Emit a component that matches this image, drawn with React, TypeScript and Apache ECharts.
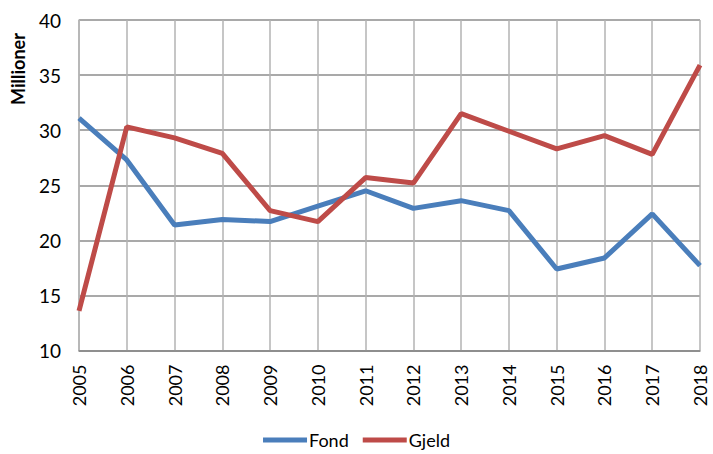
import React, { useEffect, useRef } from "react";
import * as echarts from "echarts";

const years = ["2005","2006","2007","2008","2009","2010","2011","2012","2013","2014","2015","2016","2017","2018"];
const fond = [31.1, 27.3, 21.4, 21.9, 21.7, 23.1, 24.5, 22.9, 23.6, 22.7, 17.4, 18.4, 22.4, 17.7];
const gjeld = [13.6, 30.3, 29.3, 27.9, 22.7, 21.7, 25.7, 25.2, 31.5, 29.9, 28.3, 29.5, 27.8, 35.9];
const yTicks = { min: 10, max: 40, interval: 5 };

const FONT = "Lato, 'Open Sans', sans-serif";

export default function App() {
  const ref = useRef<HTMLDivElement>(null);
  useEffect(() => {
    const chart = echarts.init(ref.current!, null, { renderer: "svg" });
    chart.setOption({
      animation: false,
      backgroundColor: "#ffffff",
      grid: { left: 79, right: 13, top: 20, bottom: 103.5, containLabel: false },
      xAxis: {
        type: "category",
        data: years,
        boundaryGap: false,
        axisLine: { lineStyle: { color: "#868686", width: 1.5 } },
        axisTick: { show: false },
        axisLabel: { rotate: 90, fontSize: 18, color: "#000", margin: 14, fontFamily: FONT },
        splitLine: { show: true, lineStyle: { color: "#b3b3b3", width: 1.5 } },
      },
      yAxis: {
        type: "value",
        min: yTicks.min,
        max: yTicks.max,
        interval: yTicks.interval,
        axisLine: { show: true, lineStyle: { color: "#b3b3b3", width: 1.5 } },
        axisTick: { show: false },
        axisLabel: { fontSize: 19, color: "#000", margin: 18, fontFamily: FONT },
        splitLine: { show: true, lineStyle: { color: "#8c8c8c", width: 1.5 } },
      },
      legend: {
        bottom: 0,
        left: "center",
        icon: "rect",
        itemWidth: 44,
        itemHeight: 5,
        itemGap: 14,
        textStyle: { fontSize: 18, color: "#000", fontFamily: FONT, padding: [0, 0, 0, -3] },
        data: ["Fond", "Gjeld"],
      },
      graphic: [
        {
          type: "text",
          x: 18,
          y: 69,
          rotation: Math.PI / 2,
          style: {
            text: "Millioner",
            fontSize: 18,
            fontWeight: "bold",
            fontFamily: FONT,
            fill: "#000",
            align: "center",
            verticalAlign: "middle",
          },
        },
      ],
      series: [
        {
          name: "Fond",
          type: "line",
          data: fond,
          symbol: "none",
          lineStyle: { color: "#4a7ebb", width: 5 },
          itemStyle: { color: "#4a7ebb" },
        },
        {
          name: "Gjeld",
          type: "line",
          data: gjeld,
          symbol: "none",
          lineStyle: { color: "#be4b48", width: 5 },
          itemStyle: { color: "#be4b48" },
        },
      ],
    });
    return () => chart.dispose();
  }, []);
  return <div ref={ref} style={{ position: "fixed", left: 0, top: 0, width: 713, height: 454 }} />;
}
